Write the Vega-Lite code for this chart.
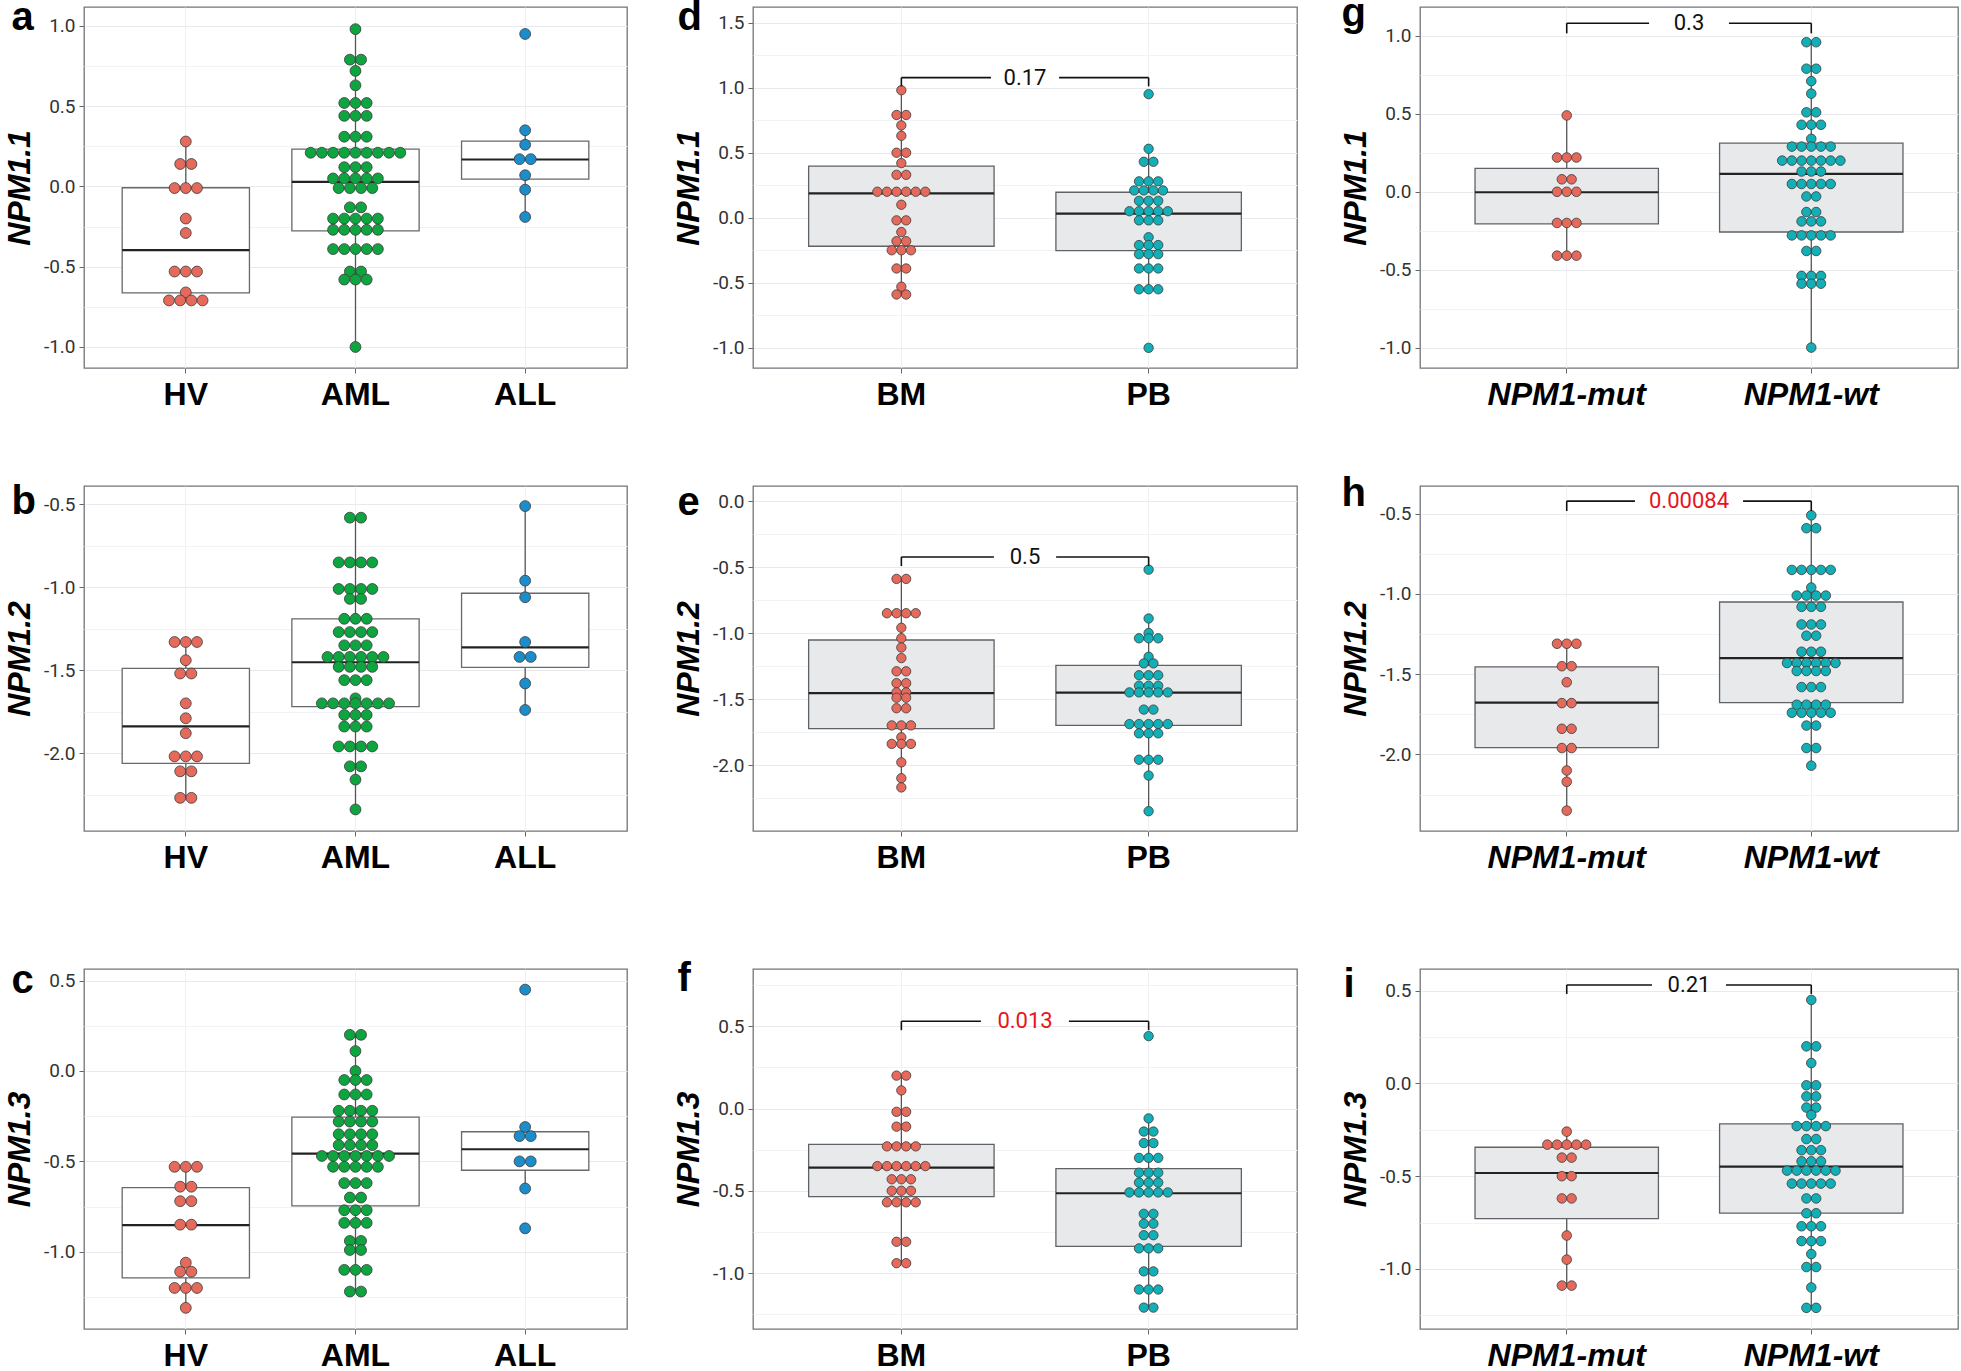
{
"$schema": "https://vega.github.io/schema/vega-lite/v6.json",
"padding": {"left": 2, "top": -7, "right": 0, "bottom": 0},
"datasets": {
"boxes": [
{"p":"a","g":"HV","lo":-0.71,"q1":-0.663,"med":-0.397,"q3":-0.008,"hi":0.28},
{"p":"a","g":"AML","lo":-1.0,"q1":-0.277,"med":0.029,"q3":0.233,"hi":0.98},
{"p":"a","g":"ALL","lo":-0.19,"q1":0.046,"med":0.168,"q3":0.283,"hi":0.35},
{"p":"b","g":"HV","lo":-2.27,"q1":-2.062,"med":-1.839,"q3":-1.489,"hi":-1.33},
{"p":"b","g":"AML","lo":-2.34,"q1":-1.72,"med":-1.452,"q3":-1.19,"hi":-0.58},
{"p":"b","g":"ALL","lo":-1.74,"q1":-1.483,"med":-1.362,"q3":-1.036,"hi":-0.51},
{"p":"c","g":"HV","lo":-1.31,"q1":-1.144,"med":-0.853,"q3":-0.645,"hi":-0.53},
{"p":"c","g":"AML","lo":-1.22,"q1":-0.746,"med":-0.457,"q3":-0.255,"hi":0.2},
{"p":"c","g":"ALL","lo":-0.65,"q1":-0.549,"med":-0.433,"q3":-0.336,"hi":-0.31},
{"p":"d","g":"BM","lo":-0.59,"q1":-0.219,"med":0.188,"q3":0.397,"hi":0.98},
{"p":"d","g":"PB","lo":-0.55,"q1":-0.253,"med":0.031,"q3":0.196,"hi":0.53},
{"p":"e","g":"BM","lo":-2.17,"q1":-1.725,"med":-1.455,"q3":-1.053,"hi":-0.59},
{"p":"e","g":"PB","lo":-2.35,"q1":-1.699,"med":-1.452,"q3":-1.245,"hi":-0.89},
{"p":"f","g":"BM","lo":-0.94,"q1":-0.535,"med":-0.359,"q3":-0.218,"hi":0.2},
{"p":"f","g":"PB","lo":-1.21,"q1":-0.838,"med":-0.515,"q3":-0.365,"hi":-0.06},
{"p":"g","g":"NPM1-mut","lo":-0.41,"q1":-0.206,"med":-0.003,"q3":0.15,"hi":0.49},
{"p":"g","g":"NPM1-wt","lo":-1.0,"q1":-0.258,"med":0.115,"q3":0.312,"hi":0.96},
{"p":"h","g":"NPM1-mut","lo":-2.35,"q1":-1.958,"med":-1.677,"q3":-1.454,"hi":-1.31},
{"p":"h","g":"NPM1-wt","lo":-2.07,"q1":-1.677,"med":-1.4,"q3":-1.05,"hi":-0.51},
{"p":"i","g":"NPM1-mut","lo":-1.09,"q1":-0.729,"med":-0.483,"q3":-0.344,"hi":-0.26},
{"p":"i","g":"NPM1-wt","lo":-1.21,"q1":-0.699,"med":-0.448,"q3":-0.218,"hi":0.45}
],
"brk": [
{"p":"d","g1":"BM","g2":"PB","y":1.077,"tip":1.01,"label":"0.17","pv":0.17},
{"p":"e","g1":"BM","g2":"PB","y":-0.424,"tip":-0.492,"label":"0.5","pv":0.5},
{"p":"f","g1":"BM","g2":"PB","y":0.53,"tip":0.476,"label":"0.013","pv":0.013},
{"p":"g","g1":"NPM1-mut","g2":"NPM1-wt","y":1.082,"tip":1.017,"label":"0.3","pv":0.3},
{"p":"h","g1":"NPM1-mut","g2":"NPM1-wt","y":-0.421,"tip":-0.483,"label":"0.00084","pv":0.00084},
{"p":"i","g1":"NPM1-mut","g2":"NPM1-wt","y":0.531,"tip":0.482,"label":"0.21","pv":0.21}
],
"dots": [
{"p":"a","g":"HV","v":0.28},{"p":"a","g":"HV","v":0.14},{"p":"a","g":"HV","v":0.14},{"p":"a","g":"HV","v":-0.01},{"p":"a","g":"HV","v":-0.01},{"p":"a","g":"HV","v":-0.01},{"p":"a","g":"HV","v":-0.2},{"p":"a","g":"HV","v":-0.29},{"p":"a","g":"HV","v":-0.53},{"p":"a","g":"HV","v":-0.53},{"p":"a","g":"HV","v":-0.53},{"p":"a","g":"HV","v":-0.66},{"p":"a","g":"HV","v":-0.71},{"p":"a","g":"HV","v":-0.71},{"p":"a","g":"HV","v":-0.71},{"p":"a","g":"HV","v":-0.71},
{"p":"a","g":"AML","v":0.98},{"p":"a","g":"AML","v":0.79},{"p":"a","g":"AML","v":0.79},{"p":"a","g":"AML","v":0.72},{"p":"a","g":"AML","v":0.63},{"p":"a","g":"AML","v":0.52},{"p":"a","g":"AML","v":0.52},{"p":"a","g":"AML","v":0.52},{"p":"a","g":"AML","v":0.44},{"p":"a","g":"AML","v":0.44},{"p":"a","g":"AML","v":0.44},{"p":"a","g":"AML","v":0.31},{"p":"a","g":"AML","v":0.31},{"p":"a","g":"AML","v":0.31},
{"p":"a","g":"AML","v":0.21},{"p":"a","g":"AML","v":0.21},{"p":"a","g":"AML","v":0.21},{"p":"a","g":"AML","v":0.21},{"p":"a","g":"AML","v":0.21},{"p":"a","g":"AML","v":0.21},{"p":"a","g":"AML","v":0.21},{"p":"a","g":"AML","v":0.21},{"p":"a","g":"AML","v":0.21},
{"p":"a","g":"AML","v":0.12},{"p":"a","g":"AML","v":0.12},{"p":"a","g":"AML","v":0.12},{"p":"a","g":"AML","v":0.05},{"p":"a","g":"AML","v":0.05},{"p":"a","g":"AML","v":0.05},{"p":"a","g":"AML","v":0.05},{"p":"a","g":"AML","v":0.05},{"p":"a","g":"AML","v":-0.01},{"p":"a","g":"AML","v":-0.01},{"p":"a","g":"AML","v":-0.01},{"p":"a","g":"AML","v":-0.01},{"p":"a","g":"AML","v":-0.13},{"p":"a","g":"AML","v":-0.13},
{"p":"a","g":"AML","v":-0.2},{"p":"a","g":"AML","v":-0.2},{"p":"a","g":"AML","v":-0.2},{"p":"a","g":"AML","v":-0.2},{"p":"a","g":"AML","v":-0.2},{"p":"a","g":"AML","v":-0.27},{"p":"a","g":"AML","v":-0.27},{"p":"a","g":"AML","v":-0.27},{"p":"a","g":"AML","v":-0.27},{"p":"a","g":"AML","v":-0.27},{"p":"a","g":"AML","v":-0.39},{"p":"a","g":"AML","v":-0.39},{"p":"a","g":"AML","v":-0.39},{"p":"a","g":"AML","v":-0.39},{"p":"a","g":"AML","v":-0.39},
{"p":"a","g":"AML","v":-0.53},{"p":"a","g":"AML","v":-0.53},{"p":"a","g":"AML","v":-0.58},{"p":"a","g":"AML","v":-0.58},{"p":"a","g":"AML","v":-0.58},{"p":"a","g":"AML","v":-1.0},
{"p":"a","g":"ALL","v":0.95},{"p":"a","g":"ALL","v":0.35},{"p":"a","g":"ALL","v":0.26},{"p":"a","g":"ALL","v":0.17},{"p":"a","g":"ALL","v":0.17},{"p":"a","g":"ALL","v":0.07},{"p":"a","g":"ALL","v":-0.02},{"p":"a","g":"ALL","v":-0.19},

{"p":"b","g":"HV","v":-1.33},{"p":"b","g":"HV","v":-1.33},{"p":"b","g":"HV","v":-1.33},{"p":"b","g":"HV","v":-1.44},{"p":"b","g":"HV","v":-1.52},{"p":"b","g":"HV","v":-1.52},{"p":"b","g":"HV","v":-1.7},{"p":"b","g":"HV","v":-1.79},{"p":"b","g":"HV","v":-1.88},{"p":"b","g":"HV","v":-2.02},{"p":"b","g":"HV","v":-2.02},{"p":"b","g":"HV","v":-2.02},{"p":"b","g":"HV","v":-2.11},{"p":"b","g":"HV","v":-2.11},{"p":"b","g":"HV","v":-2.27},{"p":"b","g":"HV","v":-2.27},
{"p":"b","g":"AML","v":-0.58},{"p":"b","g":"AML","v":-0.58},{"p":"b","g":"AML","v":-0.85},{"p":"b","g":"AML","v":-0.85},{"p":"b","g":"AML","v":-0.85},{"p":"b","g":"AML","v":-0.85},{"p":"b","g":"AML","v":-1.01},{"p":"b","g":"AML","v":-1.01},{"p":"b","g":"AML","v":-1.01},{"p":"b","g":"AML","v":-1.01},{"p":"b","g":"AML","v":-1.07},{"p":"b","g":"AML","v":-1.07},
{"p":"b","g":"AML","v":-1.19},{"p":"b","g":"AML","v":-1.19},{"p":"b","g":"AML","v":-1.19},{"p":"b","g":"AML","v":-1.27},{"p":"b","g":"AML","v":-1.27},{"p":"b","g":"AML","v":-1.27},{"p":"b","g":"AML","v":-1.27},{"p":"b","g":"AML","v":-1.35},{"p":"b","g":"AML","v":-1.35},{"p":"b","g":"AML","v":-1.35},
{"p":"b","g":"AML","v":-1.42},{"p":"b","g":"AML","v":-1.42},{"p":"b","g":"AML","v":-1.42},{"p":"b","g":"AML","v":-1.42},{"p":"b","g":"AML","v":-1.42},{"p":"b","g":"AML","v":-1.42},{"p":"b","g":"AML","v":-1.48},{"p":"b","g":"AML","v":-1.48},{"p":"b","g":"AML","v":-1.48},{"p":"b","g":"AML","v":-1.48},{"p":"b","g":"AML","v":-1.56},{"p":"b","g":"AML","v":-1.56},{"p":"b","g":"AML","v":-1.56},{"p":"b","g":"AML","v":-1.67},
{"p":"b","g":"AML","v":-1.7},{"p":"b","g":"AML","v":-1.7},{"p":"b","g":"AML","v":-1.7},{"p":"b","g":"AML","v":-1.7},{"p":"b","g":"AML","v":-1.7},{"p":"b","g":"AML","v":-1.7},{"p":"b","g":"AML","v":-1.7},{"p":"b","g":"AML","v":-1.77},{"p":"b","g":"AML","v":-1.77},{"p":"b","g":"AML","v":-1.77},{"p":"b","g":"AML","v":-1.84},{"p":"b","g":"AML","v":-1.84},{"p":"b","g":"AML","v":-1.84},
{"p":"b","g":"AML","v":-1.96},{"p":"b","g":"AML","v":-1.96},{"p":"b","g":"AML","v":-1.96},{"p":"b","g":"AML","v":-1.96},{"p":"b","g":"AML","v":-2.08},{"p":"b","g":"AML","v":-2.08},{"p":"b","g":"AML","v":-2.16},{"p":"b","g":"AML","v":-2.34},
{"p":"b","g":"ALL","v":-0.51},{"p":"b","g":"ALL","v":-0.96},{"p":"b","g":"ALL","v":-1.06},{"p":"b","g":"ALL","v":-1.33},{"p":"b","g":"ALL","v":-1.42},{"p":"b","g":"ALL","v":-1.42},{"p":"b","g":"ALL","v":-1.58},{"p":"b","g":"ALL","v":-1.74},

{"p":"c","g":"HV","v":-0.53},{"p":"c","g":"HV","v":-0.53},{"p":"c","g":"HV","v":-0.53},{"p":"c","g":"HV","v":-0.64},{"p":"c","g":"HV","v":-0.64},{"p":"c","g":"HV","v":-0.72},{"p":"c","g":"HV","v":-0.72},{"p":"c","g":"HV","v":-0.85},{"p":"c","g":"HV","v":-0.85},{"p":"c","g":"HV","v":-1.06},{"p":"c","g":"HV","v":-1.11},{"p":"c","g":"HV","v":-1.11},{"p":"c","g":"HV","v":-1.2},{"p":"c","g":"HV","v":-1.2},{"p":"c","g":"HV","v":-1.2},{"p":"c","g":"HV","v":-1.31},
{"p":"c","g":"AML","v":0.2},{"p":"c","g":"AML","v":0.2},{"p":"c","g":"AML","v":0.11},{"p":"c","g":"AML","v":0.0},{"p":"c","g":"AML","v":-0.05},{"p":"c","g":"AML","v":-0.05},{"p":"c","g":"AML","v":-0.05},{"p":"c","g":"AML","v":-0.13},{"p":"c","g":"AML","v":-0.13},{"p":"c","g":"AML","v":-0.13},
{"p":"c","g":"AML","v":-0.22},{"p":"c","g":"AML","v":-0.22},{"p":"c","g":"AML","v":-0.22},{"p":"c","g":"AML","v":-0.22},{"p":"c","g":"AML","v":-0.28},{"p":"c","g":"AML","v":-0.28},{"p":"c","g":"AML","v":-0.28},{"p":"c","g":"AML","v":-0.28},{"p":"c","g":"AML","v":-0.35},{"p":"c","g":"AML","v":-0.35},{"p":"c","g":"AML","v":-0.35},{"p":"c","g":"AML","v":-0.35},{"p":"c","g":"AML","v":-0.41},{"p":"c","g":"AML","v":-0.41},{"p":"c","g":"AML","v":-0.41},{"p":"c","g":"AML","v":-0.41},
{"p":"c","g":"AML","v":-0.47},{"p":"c","g":"AML","v":-0.47},{"p":"c","g":"AML","v":-0.47},{"p":"c","g":"AML","v":-0.47},{"p":"c","g":"AML","v":-0.47},{"p":"c","g":"AML","v":-0.47},{"p":"c","g":"AML","v":-0.47},{"p":"c","g":"AML","v":-0.53},{"p":"c","g":"AML","v":-0.53},{"p":"c","g":"AML","v":-0.53},{"p":"c","g":"AML","v":-0.53},{"p":"c","g":"AML","v":-0.53},
{"p":"c","g":"AML","v":-0.62},{"p":"c","g":"AML","v":-0.62},{"p":"c","g":"AML","v":-0.62},{"p":"c","g":"AML","v":-0.7},{"p":"c","g":"AML","v":-0.7},{"p":"c","g":"AML","v":-0.77},{"p":"c","g":"AML","v":-0.77},{"p":"c","g":"AML","v":-0.77},{"p":"c","g":"AML","v":-0.84},{"p":"c","g":"AML","v":-0.84},{"p":"c","g":"AML","v":-0.84},
{"p":"c","g":"AML","v":-0.94},{"p":"c","g":"AML","v":-0.94},{"p":"c","g":"AML","v":-0.99},{"p":"c","g":"AML","v":-0.99},{"p":"c","g":"AML","v":-1.1},{"p":"c","g":"AML","v":-1.1},{"p":"c","g":"AML","v":-1.1},{"p":"c","g":"AML","v":-1.22},{"p":"c","g":"AML","v":-1.22},
{"p":"c","g":"ALL","v":0.45},{"p":"c","g":"ALL","v":-0.31},{"p":"c","g":"ALL","v":-0.36},{"p":"c","g":"ALL","v":-0.36},{"p":"c","g":"ALL","v":-0.5},{"p":"c","g":"ALL","v":-0.5},{"p":"c","g":"ALL","v":-0.65},{"p":"c","g":"ALL","v":-0.87},

{"p":"d","g":"BM","v":0.98},{"p":"d","g":"BM","v":0.79},{"p":"d","g":"BM","v":0.79},{"p":"d","g":"BM","v":0.71},{"p":"d","g":"BM","v":0.63},{"p":"d","g":"BM","v":0.5},{"p":"d","g":"BM","v":0.5},{"p":"d","g":"BM","v":0.42},{"p":"d","g":"BM","v":0.33},{"p":"d","g":"BM","v":0.33},
{"p":"d","g":"BM","v":0.2},{"p":"d","g":"BM","v":0.2},{"p":"d","g":"BM","v":0.2},{"p":"d","g":"BM","v":0.2},{"p":"d","g":"BM","v":0.2},{"p":"d","g":"BM","v":0.2},{"p":"d","g":"BM","v":0.1},{"p":"d","g":"BM","v":-0.02},{"p":"d","g":"BM","v":-0.02},{"p":"d","g":"BM","v":-0.11},
{"p":"d","g":"BM","v":-0.18},{"p":"d","g":"BM","v":-0.18},{"p":"d","g":"BM","v":-0.25},{"p":"d","g":"BM","v":-0.25},{"p":"d","g":"BM","v":-0.25},{"p":"d","g":"BM","v":-0.39},{"p":"d","g":"BM","v":-0.39},{"p":"d","g":"BM","v":-0.53},{"p":"d","g":"BM","v":-0.59},{"p":"d","g":"BM","v":-0.59},
{"p":"d","g":"PB","v":0.95},{"p":"d","g":"PB","v":0.53},{"p":"d","g":"PB","v":0.43},{"p":"d","g":"PB","v":0.43},{"p":"d","g":"PB","v":0.28},{"p":"d","g":"PB","v":0.28},{"p":"d","g":"PB","v":0.28},{"p":"d","g":"PB","v":0.21},{"p":"d","g":"PB","v":0.21},{"p":"d","g":"PB","v":0.21},{"p":"d","g":"PB","v":0.21},
{"p":"d","g":"PB","v":0.13},{"p":"d","g":"PB","v":0.13},{"p":"d","g":"PB","v":0.13},{"p":"d","g":"PB","v":0.05},{"p":"d","g":"PB","v":0.05},{"p":"d","g":"PB","v":0.05},{"p":"d","g":"PB","v":0.05},{"p":"d","g":"PB","v":0.05},{"p":"d","g":"PB","v":-0.02},{"p":"d","g":"PB","v":-0.02},{"p":"d","g":"PB","v":-0.02},
{"p":"d","g":"PB","v":-0.15},{"p":"d","g":"PB","v":-0.21},{"p":"d","g":"PB","v":-0.21},{"p":"d","g":"PB","v":-0.21},{"p":"d","g":"PB","v":-0.28},{"p":"d","g":"PB","v":-0.28},{"p":"d","g":"PB","v":-0.28},{"p":"d","g":"PB","v":-0.39},{"p":"d","g":"PB","v":-0.39},{"p":"d","g":"PB","v":-0.39},{"p":"d","g":"PB","v":-0.55},{"p":"d","g":"PB","v":-0.55},{"p":"d","g":"PB","v":-0.55},{"p":"d","g":"PB","v":-1.0},

{"p":"e","g":"BM","v":-0.59},{"p":"e","g":"BM","v":-0.59},{"p":"e","g":"BM","v":-0.85},{"p":"e","g":"BM","v":-0.85},{"p":"e","g":"BM","v":-0.85},{"p":"e","g":"BM","v":-0.85},{"p":"e","g":"BM","v":-0.96},{"p":"e","g":"BM","v":-1.04},{"p":"e","g":"BM","v":-1.11},{"p":"e","g":"BM","v":-1.19},
{"p":"e","g":"BM","v":-1.29},{"p":"e","g":"BM","v":-1.29},{"p":"e","g":"BM","v":-1.38},{"p":"e","g":"BM","v":-1.38},{"p":"e","g":"BM","v":-1.45},{"p":"e","g":"BM","v":-1.45},{"p":"e","g":"BM","v":-1.49},{"p":"e","g":"BM","v":-1.49},{"p":"e","g":"BM","v":-1.57},{"p":"e","g":"BM","v":-1.57},
{"p":"e","g":"BM","v":-1.7},{"p":"e","g":"BM","v":-1.7},{"p":"e","g":"BM","v":-1.7},{"p":"e","g":"BM","v":-1.79},{"p":"e","g":"BM","v":-1.84},{"p":"e","g":"BM","v":-1.84},{"p":"e","g":"BM","v":-1.84},{"p":"e","g":"BM","v":-1.98},{"p":"e","g":"BM","v":-2.1},{"p":"e","g":"BM","v":-2.17},
{"p":"e","g":"PB","v":-0.52},{"p":"e","g":"PB","v":-0.89},{"p":"e","g":"PB","v":-1.0},{"p":"e","g":"PB","v":-1.04},{"p":"e","g":"PB","v":-1.04},{"p":"e","g":"PB","v":-1.04},{"p":"e","g":"PB","v":-1.18},{"p":"e","g":"PB","v":-1.23},{"p":"e","g":"PB","v":-1.23},
{"p":"e","g":"PB","v":-1.32},{"p":"e","g":"PB","v":-1.32},{"p":"e","g":"PB","v":-1.32},{"p":"e","g":"PB","v":-1.4},{"p":"e","g":"PB","v":-1.4},{"p":"e","g":"PB","v":-1.4},{"p":"e","g":"PB","v":-1.45},{"p":"e","g":"PB","v":-1.45},{"p":"e","g":"PB","v":-1.45},{"p":"e","g":"PB","v":-1.45},{"p":"e","g":"PB","v":-1.45},
{"p":"e","g":"PB","v":-1.58},{"p":"e","g":"PB","v":-1.58},{"p":"e","g":"PB","v":-1.69},{"p":"e","g":"PB","v":-1.69},{"p":"e","g":"PB","v":-1.69},{"p":"e","g":"PB","v":-1.69},{"p":"e","g":"PB","v":-1.69},{"p":"e","g":"PB","v":-1.76},{"p":"e","g":"PB","v":-1.76},{"p":"e","g":"PB","v":-1.76},
{"p":"e","g":"PB","v":-1.96},{"p":"e","g":"PB","v":-1.96},{"p":"e","g":"PB","v":-1.96},{"p":"e","g":"PB","v":-2.08},{"p":"e","g":"PB","v":-2.35},

{"p":"f","g":"BM","v":0.2},{"p":"f","g":"BM","v":0.2},{"p":"f","g":"BM","v":0.11},{"p":"f","g":"BM","v":-0.02},{"p":"f","g":"BM","v":-0.02},{"p":"f","g":"BM","v":-0.11},{"p":"f","g":"BM","v":-0.11},{"p":"f","g":"BM","v":-0.23},{"p":"f","g":"BM","v":-0.23},{"p":"f","g":"BM","v":-0.23},{"p":"f","g":"BM","v":-0.23},
{"p":"f","g":"BM","v":-0.35},{"p":"f","g":"BM","v":-0.35},{"p":"f","g":"BM","v":-0.35},{"p":"f","g":"BM","v":-0.35},{"p":"f","g":"BM","v":-0.35},{"p":"f","g":"BM","v":-0.35},{"p":"f","g":"BM","v":-0.43},{"p":"f","g":"BM","v":-0.43},{"p":"f","g":"BM","v":-0.43},
{"p":"f","g":"BM","v":-0.5},{"p":"f","g":"BM","v":-0.5},{"p":"f","g":"BM","v":-0.5},{"p":"f","g":"BM","v":-0.57},{"p":"f","g":"BM","v":-0.57},{"p":"f","g":"BM","v":-0.57},{"p":"f","g":"BM","v":-0.57},{"p":"f","g":"BM","v":-0.81},{"p":"f","g":"BM","v":-0.81},{"p":"f","g":"BM","v":-0.94},{"p":"f","g":"BM","v":-0.94},
{"p":"f","g":"PB","v":0.44},{"p":"f","g":"PB","v":-0.06},{"p":"f","g":"PB","v":-0.14},{"p":"f","g":"PB","v":-0.14},{"p":"f","g":"PB","v":-0.21},{"p":"f","g":"PB","v":-0.21},{"p":"f","g":"PB","v":-0.3},{"p":"f","g":"PB","v":-0.3},{"p":"f","g":"PB","v":-0.3},
{"p":"f","g":"PB","v":-0.39},{"p":"f","g":"PB","v":-0.39},{"p":"f","g":"PB","v":-0.39},{"p":"f","g":"PB","v":-0.45},{"p":"f","g":"PB","v":-0.45},{"p":"f","g":"PB","v":-0.45},{"p":"f","g":"PB","v":-0.51},{"p":"f","g":"PB","v":-0.51},{"p":"f","g":"PB","v":-0.51},{"p":"f","g":"PB","v":-0.51},{"p":"f","g":"PB","v":-0.51},
{"p":"f","g":"PB","v":-0.64},{"p":"f","g":"PB","v":-0.64},{"p":"f","g":"PB","v":-0.7},{"p":"f","g":"PB","v":-0.7},{"p":"f","g":"PB","v":-0.77},{"p":"f","g":"PB","v":-0.77},{"p":"f","g":"PB","v":-0.85},{"p":"f","g":"PB","v":-0.85},{"p":"f","g":"PB","v":-0.85},
{"p":"f","g":"PB","v":-0.99},{"p":"f","g":"PB","v":-0.99},{"p":"f","g":"PB","v":-1.1},{"p":"f","g":"PB","v":-1.1},{"p":"f","g":"PB","v":-1.1},{"p":"f","g":"PB","v":-1.21},{"p":"f","g":"PB","v":-1.21},

{"p":"g","g":"NPM1-mut","v":0.49},{"p":"g","g":"NPM1-mut","v":0.22},{"p":"g","g":"NPM1-mut","v":0.22},{"p":"g","g":"NPM1-mut","v":0.22},{"p":"g","g":"NPM1-mut","v":0.08},{"p":"g","g":"NPM1-mut","v":0.08},{"p":"g","g":"NPM1-mut","v":0.0},{"p":"g","g":"NPM1-mut","v":0.0},{"p":"g","g":"NPM1-mut","v":0.0},
{"p":"g","g":"NPM1-mut","v":-0.2},{"p":"g","g":"NPM1-mut","v":-0.2},{"p":"g","g":"NPM1-mut","v":-0.2},{"p":"g","g":"NPM1-mut","v":-0.41},{"p":"g","g":"NPM1-mut","v":-0.41},{"p":"g","g":"NPM1-mut","v":-0.41},
{"p":"g","g":"NPM1-wt","v":0.96},{"p":"g","g":"NPM1-wt","v":0.96},{"p":"g","g":"NPM1-wt","v":0.79},{"p":"g","g":"NPM1-wt","v":0.79},{"p":"g","g":"NPM1-wt","v":0.71},{"p":"g","g":"NPM1-wt","v":0.63},{"p":"g","g":"NPM1-wt","v":0.51},{"p":"g","g":"NPM1-wt","v":0.51},
{"p":"g","g":"NPM1-wt","v":0.43},{"p":"g","g":"NPM1-wt","v":0.43},{"p":"g","g":"NPM1-wt","v":0.43},{"p":"g","g":"NPM1-wt","v":0.34},{"p":"g","g":"NPM1-wt","v":0.29},{"p":"g","g":"NPM1-wt","v":0.29},{"p":"g","g":"NPM1-wt","v":0.29},{"p":"g","g":"NPM1-wt","v":0.29},{"p":"g","g":"NPM1-wt","v":0.29},
{"p":"g","g":"NPM1-wt","v":0.2},{"p":"g","g":"NPM1-wt","v":0.2},{"p":"g","g":"NPM1-wt","v":0.2},{"p":"g","g":"NPM1-wt","v":0.2},{"p":"g","g":"NPM1-wt","v":0.2},{"p":"g","g":"NPM1-wt","v":0.2},{"p":"g","g":"NPM1-wt","v":0.2},
{"p":"g","g":"NPM1-wt","v":0.13},{"p":"g","g":"NPM1-wt","v":0.13},{"p":"g","g":"NPM1-wt","v":0.13},{"p":"g","g":"NPM1-wt","v":0.05},{"p":"g","g":"NPM1-wt","v":0.05},{"p":"g","g":"NPM1-wt","v":0.05},{"p":"g","g":"NPM1-wt","v":0.05},{"p":"g","g":"NPM1-wt","v":0.05},
{"p":"g","g":"NPM1-wt","v":-0.03},{"p":"g","g":"NPM1-wt","v":-0.03},{"p":"g","g":"NPM1-wt","v":-0.13},{"p":"g","g":"NPM1-wt","v":-0.13},{"p":"g","g":"NPM1-wt","v":-0.19},{"p":"g","g":"NPM1-wt","v":-0.19},{"p":"g","g":"NPM1-wt","v":-0.19},
{"p":"g","g":"NPM1-wt","v":-0.28},{"p":"g","g":"NPM1-wt","v":-0.28},{"p":"g","g":"NPM1-wt","v":-0.28},{"p":"g","g":"NPM1-wt","v":-0.28},{"p":"g","g":"NPM1-wt","v":-0.28},{"p":"g","g":"NPM1-wt","v":-0.38},{"p":"g","g":"NPM1-wt","v":-0.38},
{"p":"g","g":"NPM1-wt","v":-0.54},{"p":"g","g":"NPM1-wt","v":-0.54},{"p":"g","g":"NPM1-wt","v":-0.54},{"p":"g","g":"NPM1-wt","v":-0.59},{"p":"g","g":"NPM1-wt","v":-0.59},{"p":"g","g":"NPM1-wt","v":-0.59},{"p":"g","g":"NPM1-wt","v":-1.0},

{"p":"h","g":"NPM1-mut","v":-1.31},{"p":"h","g":"NPM1-mut","v":-1.31},{"p":"h","g":"NPM1-mut","v":-1.31},{"p":"h","g":"NPM1-mut","v":-1.45},{"p":"h","g":"NPM1-mut","v":-1.45},{"p":"h","g":"NPM1-mut","v":-1.55},{"p":"h","g":"NPM1-mut","v":-1.68},{"p":"h","g":"NPM1-mut","v":-1.68},
{"p":"h","g":"NPM1-mut","v":-1.84},{"p":"h","g":"NPM1-mut","v":-1.84},{"p":"h","g":"NPM1-mut","v":-1.96},{"p":"h","g":"NPM1-mut","v":-1.96},{"p":"h","g":"NPM1-mut","v":-2.1},{"p":"h","g":"NPM1-mut","v":-2.17},{"p":"h","g":"NPM1-mut","v":-2.35},
{"p":"h","g":"NPM1-wt","v":-0.51},{"p":"h","g":"NPM1-wt","v":-0.59},{"p":"h","g":"NPM1-wt","v":-0.59},{"p":"h","g":"NPM1-wt","v":-0.85},{"p":"h","g":"NPM1-wt","v":-0.85},{"p":"h","g":"NPM1-wt","v":-0.85},{"p":"h","g":"NPM1-wt","v":-0.85},{"p":"h","g":"NPM1-wt","v":-0.85},
{"p":"h","g":"NPM1-wt","v":-0.96},{"p":"h","g":"NPM1-wt","v":-1.01},{"p":"h","g":"NPM1-wt","v":-1.01},{"p":"h","g":"NPM1-wt","v":-1.01},{"p":"h","g":"NPM1-wt","v":-1.01},{"p":"h","g":"NPM1-wt","v":-1.08},{"p":"h","g":"NPM1-wt","v":-1.08},{"p":"h","g":"NPM1-wt","v":-1.08},
{"p":"h","g":"NPM1-wt","v":-1.19},{"p":"h","g":"NPM1-wt","v":-1.19},{"p":"h","g":"NPM1-wt","v":-1.19},{"p":"h","g":"NPM1-wt","v":-1.26},{"p":"h","g":"NPM1-wt","v":-1.26},{"p":"h","g":"NPM1-wt","v":-1.36},{"p":"h","g":"NPM1-wt","v":-1.36},{"p":"h","g":"NPM1-wt","v":-1.36},
{"p":"h","g":"NPM1-wt","v":-1.43},{"p":"h","g":"NPM1-wt","v":-1.43},{"p":"h","g":"NPM1-wt","v":-1.43},{"p":"h","g":"NPM1-wt","v":-1.43},{"p":"h","g":"NPM1-wt","v":-1.43},{"p":"h","g":"NPM1-wt","v":-1.43},{"p":"h","g":"NPM1-wt","v":-1.48},{"p":"h","g":"NPM1-wt","v":-1.48},{"p":"h","g":"NPM1-wt","v":-1.48},{"p":"h","g":"NPM1-wt","v":-1.48},
{"p":"h","g":"NPM1-wt","v":-1.58},{"p":"h","g":"NPM1-wt","v":-1.58},{"p":"h","g":"NPM1-wt","v":-1.58},{"p":"h","g":"NPM1-wt","v":-1.69},{"p":"h","g":"NPM1-wt","v":-1.69},{"p":"h","g":"NPM1-wt","v":-1.69},{"p":"h","g":"NPM1-wt","v":-1.69},
{"p":"h","g":"NPM1-wt","v":-1.74},{"p":"h","g":"NPM1-wt","v":-1.74},{"p":"h","g":"NPM1-wt","v":-1.74},{"p":"h","g":"NPM1-wt","v":-1.74},{"p":"h","g":"NPM1-wt","v":-1.74},{"p":"h","g":"NPM1-wt","v":-1.82},{"p":"h","g":"NPM1-wt","v":-1.82},{"p":"h","g":"NPM1-wt","v":-1.96},{"p":"h","g":"NPM1-wt","v":-1.96},{"p":"h","g":"NPM1-wt","v":-2.07},

{"p":"i","g":"NPM1-mut","v":-0.26},{"p":"i","g":"NPM1-mut","v":-0.33},{"p":"i","g":"NPM1-mut","v":-0.33},{"p":"i","g":"NPM1-mut","v":-0.33},{"p":"i","g":"NPM1-mut","v":-0.33},{"p":"i","g":"NPM1-mut","v":-0.33},{"p":"i","g":"NPM1-mut","v":-0.4},{"p":"i","g":"NPM1-mut","v":-0.4},
{"p":"i","g":"NPM1-mut","v":-0.5},{"p":"i","g":"NPM1-mut","v":-0.5},{"p":"i","g":"NPM1-mut","v":-0.62},{"p":"i","g":"NPM1-mut","v":-0.62},{"p":"i","g":"NPM1-mut","v":-0.82},{"p":"i","g":"NPM1-mut","v":-0.95},{"p":"i","g":"NPM1-mut","v":-1.09},{"p":"i","g":"NPM1-mut","v":-1.09},
{"p":"i","g":"NPM1-wt","v":0.45},{"p":"i","g":"NPM1-wt","v":0.2},{"p":"i","g":"NPM1-wt","v":0.2},{"p":"i","g":"NPM1-wt","v":0.11},{"p":"i","g":"NPM1-wt","v":-0.01},{"p":"i","g":"NPM1-wt","v":-0.01},{"p":"i","g":"NPM1-wt","v":-0.07},{"p":"i","g":"NPM1-wt","v":-0.07},
{"p":"i","g":"NPM1-wt","v":-0.13},{"p":"i","g":"NPM1-wt","v":-0.13},{"p":"i","g":"NPM1-wt","v":-0.17},{"p":"i","g":"NPM1-wt","v":-0.23},{"p":"i","g":"NPM1-wt","v":-0.23},{"p":"i","g":"NPM1-wt","v":-0.23},{"p":"i","g":"NPM1-wt","v":-0.23},
{"p":"i","g":"NPM1-wt","v":-0.3},{"p":"i","g":"NPM1-wt","v":-0.3},{"p":"i","g":"NPM1-wt","v":-0.36},{"p":"i","g":"NPM1-wt","v":-0.36},{"p":"i","g":"NPM1-wt","v":-0.36},{"p":"i","g":"NPM1-wt","v":-0.42},{"p":"i","g":"NPM1-wt","v":-0.42},{"p":"i","g":"NPM1-wt","v":-0.42},
{"p":"i","g":"NPM1-wt","v":-0.47},{"p":"i","g":"NPM1-wt","v":-0.47},{"p":"i","g":"NPM1-wt","v":-0.47},{"p":"i","g":"NPM1-wt","v":-0.47},{"p":"i","g":"NPM1-wt","v":-0.47},{"p":"i","g":"NPM1-wt","v":-0.47},
{"p":"i","g":"NPM1-wt","v":-0.54},{"p":"i","g":"NPM1-wt","v":-0.54},{"p":"i","g":"NPM1-wt","v":-0.54},{"p":"i","g":"NPM1-wt","v":-0.54},{"p":"i","g":"NPM1-wt","v":-0.54},{"p":"i","g":"NPM1-wt","v":-0.62},{"p":"i","g":"NPM1-wt","v":-0.62},{"p":"i","g":"NPM1-wt","v":-0.7},{"p":"i","g":"NPM1-wt","v":-0.7},
{"p":"i","g":"NPM1-wt","v":-0.77},{"p":"i","g":"NPM1-wt","v":-0.77},{"p":"i","g":"NPM1-wt","v":-0.77},{"p":"i","g":"NPM1-wt","v":-0.85},{"p":"i","g":"NPM1-wt","v":-0.85},{"p":"i","g":"NPM1-wt","v":-0.85},{"p":"i","g":"NPM1-wt","v":-0.92},
{"p":"i","g":"NPM1-wt","v":-0.99},{"p":"i","g":"NPM1-wt","v":-0.99},{"p":"i","g":"NPM1-wt","v":-1.1},{"p":"i","g":"NPM1-wt","v":-1.21},{"p":"i","g":"NPM1-wt","v":-1.21}
]
},
"vconcat": [
{"vconcat": [
{"hconcat": [
{"hconcat": [
{
"width": 543, "height": 361,
"title": {"text": "a", "anchor": "start", "frame": "bounds", "orient": "top", "offset": -63, "baseline": "alphabetic", "dx": 8, "fontSize": 40, "fontWeight": "bold", "font": "Liberation Sans", "color": "#000"},
"encoding": {"x": {"field": "g", "type": "nominal", "sort": ["HV","AML","ALL"], "title": null, "scale": {"type": "band", "paddingInner": 0.25, "paddingOuter": 0.225}}},
"layer": [
{"data": {"name": "boxes"}, "transform": [{"filter": "datum.p=='a'"}], "mark": {"type": "rule", "color": "#555", "strokeWidth": 1.3},
 "encoding": {"y": {"field": "lo", "type": "quantitative", "scale": {"domain": [-1.131, 1.118], "nice": false, "zero": false},
   "axis": {"title": "NPM1.1", "values": [-1,-0.75,-0.5,-0.25,0,0.25,0.5,0.75,1], "labelExpr": "abs(datum.value*2-round(datum.value*2))<0.001 ? (datum.value<-0.001?'-':'')+format(abs(datum.value),'.1f') : ''", "tickOpacity": {"condition": {"test": "abs(datum.value*2-round(datum.value*2))>0.001", "value": 0}, "value": 1}, "gridColor": {"condition": {"test": "abs(datum.value*2-round(datum.value*2))>0.001", "value": "#F2F3F5"}, "value": "#E8EAEE"}}},
  "y2": {"field": "hi"}}},
{"data": {"name": "boxes"}, "transform": [{"filter": "datum.p=='a'"}], "mark": {"type": "rect", "fill": "#FFFFFF", "stroke": "#66696D", "strokeWidth": 1.3},
 "encoding": {"x": {"field": "g", "type": "nominal", "sort": ["HV","AML","ALL"], "bandPosition": 0, "title": null}, "x2": {"field": "g", "bandPosition": 1},
  "y": {"field": "q1", "type": "quantitative", "scale": {"domain": [-1.131, 1.118], "nice": false, "zero": false}}, "y2": {"field": "q3"}}},
{"data": {"name": "boxes"}, "transform": [{"filter": "datum.p=='a'"}], "mark": {"type": "rule", "color": "#222", "strokeWidth": 2.2},
 "encoding": {"x": {"field": "g", "type": "nominal", "sort": ["HV","AML","ALL"], "bandPosition": 0, "title": null}, "x2": {"field": "g", "bandPosition": 1},
  "y": {"field": "med", "type": "quantitative", "scale": {"domain": [-1.131, 1.118], "nice": false, "zero": false}}}},
{"data": {"name": "dots"}, "transform": [{"filter": "datum.p=='a'"}, {"window": [{"op": "row_number", "as": "rk"}, {"op": "count", "as": "n"}], "groupby": ["g", "v"], "frame": [null, null]}, {"calculate": "datum.rk - (datum.n + 1) / 2", "as": "off"}],
 "mark": {"type": "point", "filled": true, "size": 118, "stroke": "#3A3A3A", "strokeWidth": 0.8, "opacity": 1},
 "encoding": {"xOffset": {"field": "off", "type": "quantitative", "scale": {"domain": [-10, 10], "range": [-48.4, 175.6]}},
  "y": {"field": "v", "type": "quantitative", "scale": {"domain": [-1.131, 1.118], "nice": false, "zero": false}},
  "color": {"field": "g", "type": "nominal", "scale": {"domain": ["HV","AML","ALL","BM","PB","NPM1-mut","NPM1-wt"], "range": ["#E66A5C","#0EA43F","#1C8DCB","#E66A5C","#13AFB6","#E66A5C","#13AFB6"]}, "legend": null}}}
]
},
{
"width": 544, "height": 361,
"title": {"text": "d", "anchor": "start", "frame": "bounds", "orient": "top", "offset": -63, "baseline": "alphabetic", "dx": 5, "fontSize": 40, "fontWeight": "bold", "font": "Liberation Sans", "color": "#000"},
"encoding": {"x": {"field": "g", "type": "nominal", "sort": ["BM","PB"], "title": null, "scale": {"type": "band", "paddingInner": 0.25, "paddingOuter": 0.225}}},
"layer": [
{"data": {"name": "boxes"}, "transform": [{"filter": "datum.p=='d'"}], "mark": {"type": "rule", "color": "#555", "strokeWidth": 1.3},
 "encoding": {"y": {"field": "lo", "type": "quantitative", "scale": {"domain": [-1.155, 1.62], "nice": false, "zero": false},
   "axis": {"title": "NPM1.1", "values": [-1,-0.75,-0.5,-0.25,0,0.25,0.5,0.75,1,1.25,1.5], "labelExpr": "abs(datum.value*2-round(datum.value*2))<0.001 ? (datum.value<-0.001?'-':'')+format(abs(datum.value),'.1f') : ''", "tickOpacity": {"condition": {"test": "abs(datum.value*2-round(datum.value*2))>0.001", "value": 0}, "value": 1}, "gridColor": {"condition": {"test": "abs(datum.value*2-round(datum.value*2))>0.001", "value": "#F2F3F5"}, "value": "#E8EAEE"}}},
  "y2": {"field": "hi"}}},
{"data": {"name": "boxes"}, "transform": [{"filter": "datum.p=='d'"}], "mark": {"type": "rect", "fill": "#E8E9EB", "stroke": "#5F6266", "strokeWidth": 1.3},
 "encoding": {"x": {"field": "g", "type": "nominal", "sort": ["BM","PB"], "bandPosition": 0, "title": null}, "x2": {"field": "g", "bandPosition": 1},
  "y": {"field": "q1", "type": "quantitative", "scale": {"domain": [-1.155, 1.62], "nice": false, "zero": false}}, "y2": {"field": "q3"}}},
{"data": {"name": "boxes"}, "transform": [{"filter": "datum.p=='d'"}], "mark": {"type": "rule", "color": "#222", "strokeWidth": 2.2},
 "encoding": {"x": {"field": "g", "type": "nominal", "sort": ["BM","PB"], "bandPosition": 0, "title": null}, "x2": {"field": "g", "bandPosition": 1},
  "y": {"field": "med", "type": "quantitative", "scale": {"domain": [-1.155, 1.62], "nice": false, "zero": false}}}},
{"data": {"name": "dots"}, "transform": [{"filter": "datum.p=='d'"}, {"window": [{"op": "row_number", "as": "rk"}, {"op": "count", "as": "n"}], "groupby": ["g", "v"], "frame": [null, null]}, {"calculate": "datum.rk - (datum.n + 1) / 2", "as": "off"}],
 "mark": {"type": "point", "filled": true, "size": 88, "stroke": "#3A3A3A", "strokeWidth": 0.8, "opacity": 1},
 "encoding": {"xOffset": {"field": "off", "type": "quantitative", "scale": {"domain": [-10, 10], "range": [-3.3, 188.7]}},
  "y": {"field": "v", "type": "quantitative", "scale": {"domain": [-1.155, 1.62], "nice": false, "zero": false}},
  "color": {"field": "g", "type": "nominal", "scale": {"domain": ["HV","AML","ALL","BM","PB","NPM1-mut","NPM1-wt"], "range": ["#E66A5C","#0EA43F","#1C8DCB","#E66A5C","#13AFB6","#E66A5C","#13AFB6"]}, "legend": null}}},
{"data": {"name": "brk"}, "transform": [{"filter": "datum.p=='d'"}], "mark": {"type": "rule", "color": "#111", "strokeWidth": 1.6},
 "encoding": {"x": {"field": "g1", "type": "nominal", "sort": ["BM","PB"], "bandPosition": 0.5, "title": null}, "y": {"field": "y", "type": "quantitative", "scale": {"domain": [-1.155, 1.62], "nice": false, "zero": false}}, "y2": {"field": "tip"}}},
{"data": {"name": "brk"}, "transform": [{"filter": "datum.p=='d'"}], "mark": {"type": "rule", "color": "#111", "strokeWidth": 1.6},
 "encoding": {"x": {"field": "g2", "type": "nominal", "sort": ["BM","PB"], "bandPosition": 0.5, "title": null}, "y": {"field": "y", "type": "quantitative", "scale": {"domain": [-1.155, 1.62], "nice": false, "zero": false}}, "y2": {"field": "tip"}}},
{"data": {"name": "brk"}, "transform": [{"filter": "datum.p=='d'"}], "mark": {"type": "rule", "color": "#111", "strokeWidth": 1.6},
 "encoding": {"x": {"field": "g1", "type": "nominal", "sort": ["BM","PB"], "bandPosition": 0.5, "title": null}, "x2": {"field": "g1", "bandPosition": 0.983}, "y": {"field": "y", "type": "quantitative", "scale": {"domain": [-1.155, 1.62], "nice": false, "zero": false}}}},
{"data": {"name": "brk"}, "transform": [{"filter": "datum.p=='d'"}], "mark": {"type": "rule", "color": "#111", "strokeWidth": 1.6},
 "encoding": {"x": {"field": "g2", "type": "nominal", "sort": ["BM","PB"], "bandPosition": 0.017, "title": null}, "x2": {"field": "g2", "bandPosition": 0.5}, "y": {"field": "y", "type": "quantitative", "scale": {"domain": [-1.155, 1.62], "nice": false, "zero": false}}}},
{"data": {"name": "brk"}, "transform": [{"filter": "datum.p=='d'"}], "mark": {"type": "text", "font": "Roboto", "fontSize": 22, "align": "center", "baseline": "middle"},
 "encoding": {"x": {"field": "g1", "type": "nominal", "sort": ["BM","PB"], "bandPosition": 1.1667, "title": null}, "y": {"field": "y", "type": "quantitative", "scale": {"domain": [-1.155, 1.62], "nice": false, "zero": false}}, "text": {"field": "label"}, "color": {"condition": {"test": "datum.pv < 0.05", "value": "#E8141B"}, "value": "#111"}}}
]
}
], "spacing": 43, "resolve": {"scale": {"x": "independent", "y": "independent", "xOffset": "independent"}}},
{
"width": 538, "height": 361,
"title": {"text": "g", "anchor": "start", "frame": "bounds", "orient": "top", "offset": -59, "baseline": "alphabetic", "dx": 2, "fontSize": 40, "fontWeight": "bold", "font": "Liberation Sans", "color": "#000"},
"encoding": {"x": {"field": "g", "type": "nominal", "sort": ["NPM1-mut","NPM1-wt"], "title": null, "scale": {"type": "band", "paddingInner": 0.25, "paddingOuter": 0.225}, "axis": {"labelFontStyle": "italic"}}},
"layer": [
{"data": {"name": "boxes"}, "transform": [{"filter": "datum.p=='g'"}], "mark": {"type": "rule", "color": "#555", "strokeWidth": 1.3},
 "encoding": {"y": {"field": "lo", "type": "quantitative", "scale": {"domain": [-1.131, 1.186], "nice": false, "zero": false},
   "axis": {"title": "NPM1.1", "values": [-1,-0.75,-0.5,-0.25,0,0.25,0.5,0.75,1], "labelExpr": "abs(datum.value*2-round(datum.value*2))<0.001 ? (datum.value<-0.001?'-':'')+format(abs(datum.value),'.1f') : ''", "tickOpacity": {"condition": {"test": "abs(datum.value*2-round(datum.value*2))>0.001", "value": 0}, "value": 1}, "gridColor": {"condition": {"test": "abs(datum.value*2-round(datum.value*2))>0.001", "value": "#F2F3F5"}, "value": "#E8EAEE"}}},
  "y2": {"field": "hi"}}},
{"data": {"name": "boxes"}, "transform": [{"filter": "datum.p=='g'"}], "mark": {"type": "rect", "fill": "#E8E9EB", "stroke": "#5F6266", "strokeWidth": 1.3},
 "encoding": {"x": {"field": "g", "type": "nominal", "sort": ["NPM1-mut","NPM1-wt"], "bandPosition": 0, "title": null}, "x2": {"field": "g", "bandPosition": 1},
  "y": {"field": "q1", "type": "quantitative", "scale": {"domain": [-1.131, 1.186], "nice": false, "zero": false}}, "y2": {"field": "q3"}}},
{"data": {"name": "boxes"}, "transform": [{"filter": "datum.p=='g'"}], "mark": {"type": "rule", "color": "#222", "strokeWidth": 2.2},
 "encoding": {"x": {"field": "g", "type": "nominal", "sort": ["NPM1-mut","NPM1-wt"], "bandPosition": 0, "title": null}, "x2": {"field": "g", "bandPosition": 1},
  "y": {"field": "med", "type": "quantitative", "scale": {"domain": [-1.131, 1.186], "nice": false, "zero": false}}}},
{"data": {"name": "dots"}, "transform": [{"filter": "datum.p=='g'"}, {"window": [{"op": "row_number", "as": "rk"}, {"op": "count", "as": "n"}], "groupby": ["g", "v"], "frame": [null, null]}, {"calculate": "datum.rk - (datum.n + 1) / 2", "as": "off"}],
 "mark": {"type": "point", "filled": true, "size": 92, "stroke": "#3A3A3A", "strokeWidth": 0.8, "opacity": 1},
 "encoding": {"xOffset": {"field": "off", "type": "quantitative", "scale": {"domain": [-10, 10], "range": [-5.3, 188.7]}},
  "y": {"field": "v", "type": "quantitative", "scale": {"domain": [-1.131, 1.186], "nice": false, "zero": false}},
  "color": {"field": "g", "type": "nominal", "scale": {"domain": ["HV","AML","ALL","BM","PB","NPM1-mut","NPM1-wt"], "range": ["#E66A5C","#0EA43F","#1C8DCB","#E66A5C","#13AFB6","#E66A5C","#13AFB6"]}, "legend": null}}},
{"data": {"name": "brk"}, "transform": [{"filter": "datum.p=='g'"}], "mark": {"type": "rule", "color": "#111", "strokeWidth": 1.6},
 "encoding": {"x": {"field": "g1", "type": "nominal", "sort": ["NPM1-mut","NPM1-wt"], "bandPosition": 0.5, "title": null}, "y": {"field": "y", "type": "quantitative", "scale": {"domain": [-1.131, 1.186], "nice": false, "zero": false}}, "y2": {"field": "tip"}}},
{"data": {"name": "brk"}, "transform": [{"filter": "datum.p=='g'"}], "mark": {"type": "rule", "color": "#111", "strokeWidth": 1.6},
 "encoding": {"x": {"field": "g2", "type": "nominal", "sort": ["NPM1-mut","NPM1-wt"], "bandPosition": 0.5, "title": null}, "y": {"field": "y", "type": "quantitative", "scale": {"domain": [-1.131, 1.186], "nice": false, "zero": false}}, "y2": {"field": "tip"}}},
{"data": {"name": "brk"}, "transform": [{"filter": "datum.p=='g'"}], "mark": {"type": "rule", "color": "#111", "strokeWidth": 1.6},
 "encoding": {"x": {"field": "g1", "type": "nominal", "sort": ["NPM1-mut","NPM1-wt"], "bandPosition": 0.5, "title": null}, "x2": {"field": "g1", "bandPosition": 0.949}, "y": {"field": "y", "type": "quantitative", "scale": {"domain": [-1.131, 1.186], "nice": false, "zero": false}}}},
{"data": {"name": "brk"}, "transform": [{"filter": "datum.p=='g'"}], "mark": {"type": "rule", "color": "#111", "strokeWidth": 1.6},
 "encoding": {"x": {"field": "g2", "type": "nominal", "sort": ["NPM1-mut","NPM1-wt"], "bandPosition": 0.051, "title": null}, "x2": {"field": "g2", "bandPosition": 0.5}, "y": {"field": "y", "type": "quantitative", "scale": {"domain": [-1.131, 1.186], "nice": false, "zero": false}}}},
{"data": {"name": "brk"}, "transform": [{"filter": "datum.p=='g'"}], "mark": {"type": "text", "font": "Roboto", "fontSize": 22, "align": "center", "baseline": "middle"},
 "encoding": {"x": {"field": "g1", "type": "nominal", "sort": ["NPM1-mut","NPM1-wt"], "bandPosition": 1.1667, "title": null}, "y": {"field": "y", "type": "quantitative", "scale": {"domain": [-1.131, 1.186], "nice": false, "zero": false}}, "text": {"field": "label"}, "color": {"condition": {"test": "datum.pv < 0.05", "value": "#E8141B"}, "value": "#111"}}}
]
}
], "spacing": 40, "resolve": {"scale": {"x": "independent", "y": "independent", "xOffset": "independent"}}},
{"hconcat": [
{"hconcat": [
{
"width": 543, "height": 345,
"title": {"text": "b", "anchor": "start", "frame": "bounds", "orient": "top", "offset": -68, "baseline": "alphabetic", "dx": 8, "fontSize": 40, "fontWeight": "bold", "font": "Liberation Sans", "color": "#000"},
"encoding": {"x": {"field": "g", "type": "nominal", "sort": ["HV","AML","ALL"], "title": null, "scale": {"type": "band", "paddingInner": 0.25, "paddingOuter": 0.225}}},
"layer": [
{"data": {"name": "boxes"}, "transform": [{"filter": "datum.p=='b'"}], "mark": {"type": "rule", "color": "#555", "strokeWidth": 1.3},
 "encoding": {"y": {"field": "lo", "type": "quantitative", "scale": {"domain": [-2.47, -0.389], "nice": false, "zero": false},
   "axis": {"title": "NPM1.2", "values": [-2.25,-2,-1.75,-1.5,-1.25,-1,-0.75,-0.5], "labelExpr": "abs(datum.value*2-round(datum.value*2))<0.001 ? (datum.value<-0.001?'-':'')+format(abs(datum.value),'.1f') : ''", "tickOpacity": {"condition": {"test": "abs(datum.value*2-round(datum.value*2))>0.001", "value": 0}, "value": 1}, "gridColor": {"condition": {"test": "abs(datum.value*2-round(datum.value*2))>0.001", "value": "#F2F3F5"}, "value": "#E8EAEE"}}},
  "y2": {"field": "hi"}}},
{"data": {"name": "boxes"}, "transform": [{"filter": "datum.p=='b'"}], "mark": {"type": "rect", "fill": "#FFFFFF", "stroke": "#66696D", "strokeWidth": 1.3},
 "encoding": {"x": {"field": "g", "type": "nominal", "sort": ["HV","AML","ALL"], "bandPosition": 0, "title": null}, "x2": {"field": "g", "bandPosition": 1},
  "y": {"field": "q1", "type": "quantitative", "scale": {"domain": [-2.47, -0.389], "nice": false, "zero": false}}, "y2": {"field": "q3"}}},
{"data": {"name": "boxes"}, "transform": [{"filter": "datum.p=='b'"}], "mark": {"type": "rule", "color": "#222", "strokeWidth": 2.2},
 "encoding": {"x": {"field": "g", "type": "nominal", "sort": ["HV","AML","ALL"], "bandPosition": 0, "title": null}, "x2": {"field": "g", "bandPosition": 1},
  "y": {"field": "med", "type": "quantitative", "scale": {"domain": [-2.47, -0.389], "nice": false, "zero": false}}}},
{"data": {"name": "dots"}, "transform": [{"filter": "datum.p=='b'"}, {"window": [{"op": "row_number", "as": "rk"}, {"op": "count", "as": "n"}], "groupby": ["g", "v"], "frame": [null, null]}, {"calculate": "datum.rk - (datum.n + 1) / 2", "as": "off"}],
 "mark": {"type": "point", "filled": true, "size": 118, "stroke": "#3A3A3A", "strokeWidth": 0.8, "opacity": 1},
 "encoding": {"xOffset": {"field": "off", "type": "quantitative", "scale": {"domain": [-10, 10], "range": [-48.4, 175.6]}},
  "y": {"field": "v", "type": "quantitative", "scale": {"domain": [-2.47, -0.389], "nice": false, "zero": false}},
  "color": {"field": "g", "type": "nominal", "scale": {"domain": ["HV","AML","ALL","BM","PB","NPM1-mut","NPM1-wt"], "range": ["#E66A5C","#0EA43F","#1C8DCB","#E66A5C","#13AFB6","#E66A5C","#13AFB6"]}, "legend": null}}}
]
},
{
"width": 544, "height": 345,
"title": {"text": "e", "anchor": "start", "frame": "bounds", "orient": "top", "offset": -69, "baseline": "alphabetic", "dx": 5, "fontSize": 40, "fontWeight": "bold", "font": "Liberation Sans", "color": "#000"},
"encoding": {"x": {"field": "g", "type": "nominal", "sort": ["BM","PB"], "title": null, "scale": {"type": "band", "paddingInner": 0.25, "paddingOuter": 0.225}}},
"layer": [
{"data": {"name": "boxes"}, "transform": [{"filter": "datum.p=='e'"}], "mark": {"type": "rule", "color": "#555", "strokeWidth": 1.3},
 "encoding": {"y": {"field": "lo", "type": "quantitative", "scale": {"domain": [-2.5, 0.114], "nice": false, "zero": false},
   "axis": {"title": "NPM1.2", "values": [-2.25,-2,-1.75,-1.5,-1.25,-1,-0.75,-0.5,-0.25,0], "labelExpr": "abs(datum.value*2-round(datum.value*2))<0.001 ? (datum.value<-0.001?'-':'')+format(abs(datum.value),'.1f') : ''", "tickOpacity": {"condition": {"test": "abs(datum.value*2-round(datum.value*2))>0.001", "value": 0}, "value": 1}, "gridColor": {"condition": {"test": "abs(datum.value*2-round(datum.value*2))>0.001", "value": "#F2F3F5"}, "value": "#E8EAEE"}}},
  "y2": {"field": "hi"}}},
{"data": {"name": "boxes"}, "transform": [{"filter": "datum.p=='e'"}], "mark": {"type": "rect", "fill": "#E8E9EB", "stroke": "#5F6266", "strokeWidth": 1.3},
 "encoding": {"x": {"field": "g", "type": "nominal", "sort": ["BM","PB"], "bandPosition": 0, "title": null}, "x2": {"field": "g", "bandPosition": 1},
  "y": {"field": "q1", "type": "quantitative", "scale": {"domain": [-2.5, 0.114], "nice": false, "zero": false}}, "y2": {"field": "q3"}}},
{"data": {"name": "boxes"}, "transform": [{"filter": "datum.p=='e'"}], "mark": {"type": "rule", "color": "#222", "strokeWidth": 2.2},
 "encoding": {"x": {"field": "g", "type": "nominal", "sort": ["BM","PB"], "bandPosition": 0, "title": null}, "x2": {"field": "g", "bandPosition": 1},
  "y": {"field": "med", "type": "quantitative", "scale": {"domain": [-2.5, 0.114], "nice": false, "zero": false}}}},
{"data": {"name": "dots"}, "transform": [{"filter": "datum.p=='e'"}, {"window": [{"op": "row_number", "as": "rk"}, {"op": "count", "as": "n"}], "groupby": ["g", "v"], "frame": [null, null]}, {"calculate": "datum.rk - (datum.n + 1) / 2", "as": "off"}],
 "mark": {"type": "point", "filled": true, "size": 88, "stroke": "#3A3A3A", "strokeWidth": 0.8, "opacity": 1},
 "encoding": {"xOffset": {"field": "off", "type": "quantitative", "scale": {"domain": [-10, 10], "range": [-3.3, 188.7]}},
  "y": {"field": "v", "type": "quantitative", "scale": {"domain": [-2.5, 0.114], "nice": false, "zero": false}},
  "color": {"field": "g", "type": "nominal", "scale": {"domain": ["HV","AML","ALL","BM","PB","NPM1-mut","NPM1-wt"], "range": ["#E66A5C","#0EA43F","#1C8DCB","#E66A5C","#13AFB6","#E66A5C","#13AFB6"]}, "legend": null}}},
{"data": {"name": "brk"}, "transform": [{"filter": "datum.p=='e'"}], "mark": {"type": "rule", "color": "#111", "strokeWidth": 1.6},
 "encoding": {"x": {"field": "g1", "type": "nominal", "sort": ["BM","PB"], "bandPosition": 0.5, "title": null}, "y": {"field": "y", "type": "quantitative", "scale": {"domain": [-2.5, 0.114], "nice": false, "zero": false}}, "y2": {"field": "tip"}}},
{"data": {"name": "brk"}, "transform": [{"filter": "datum.p=='e'"}], "mark": {"type": "rule", "color": "#111", "strokeWidth": 1.6},
 "encoding": {"x": {"field": "g2", "type": "nominal", "sort": ["BM","PB"], "bandPosition": 0.5, "title": null}, "y": {"field": "y", "type": "quantitative", "scale": {"domain": [-2.5, 0.114], "nice": false, "zero": false}}, "y2": {"field": "tip"}}},
{"data": {"name": "brk"}, "transform": [{"filter": "datum.p=='e'"}], "mark": {"type": "rule", "color": "#111", "strokeWidth": 1.6},
 "encoding": {"x": {"field": "g1", "type": "nominal", "sort": ["BM","PB"], "bandPosition": 0.5, "title": null}, "x2": {"field": "g1", "bandPosition": 0.999}, "y": {"field": "y", "type": "quantitative", "scale": {"domain": [-2.5, 0.114], "nice": false, "zero": false}}}},
{"data": {"name": "brk"}, "transform": [{"filter": "datum.p=='e'"}], "mark": {"type": "rule", "color": "#111", "strokeWidth": 1.6},
 "encoding": {"x": {"field": "g2", "type": "nominal", "sort": ["BM","PB"], "bandPosition": 0.001, "title": null}, "x2": {"field": "g2", "bandPosition": 0.5}, "y": {"field": "y", "type": "quantitative", "scale": {"domain": [-2.5, 0.114], "nice": false, "zero": false}}}},
{"data": {"name": "brk"}, "transform": [{"filter": "datum.p=='e'"}], "mark": {"type": "text", "font": "Roboto", "fontSize": 22, "align": "center", "baseline": "middle"},
 "encoding": {"x": {"field": "g1", "type": "nominal", "sort": ["BM","PB"], "bandPosition": 1.1667, "title": null}, "y": {"field": "y", "type": "quantitative", "scale": {"domain": [-2.5, 0.114], "nice": false, "zero": false}}, "text": {"field": "label"}, "color": {"condition": {"test": "datum.pv < 0.05", "value": "#E8141B"}, "value": "#111"}}}
]
}
], "spacing": 43, "resolve": {"scale": {"x": "independent", "y": "independent", "xOffset": "independent"}}},
{
"width": 538, "height": 345,
"title": {"text": "h", "anchor": "start", "frame": "bounds", "orient": "top", "offset": -60, "baseline": "alphabetic", "dx": 2, "fontSize": 40, "fontWeight": "bold", "font": "Liberation Sans", "color": "#000"},
"encoding": {"x": {"field": "g", "type": "nominal", "sort": ["NPM1-mut","NPM1-wt"], "title": null, "scale": {"type": "band", "paddingInner": 0.25, "paddingOuter": 0.225}, "axis": {"labelFontStyle": "italic"}}},
"layer": [
{"data": {"name": "boxes"}, "transform": [{"filter": "datum.p=='h'"}], "mark": {"type": "rule", "color": "#555", "strokeWidth": 1.3},
 "encoding": {"y": {"field": "lo", "type": "quantitative", "scale": {"domain": [-2.477, -0.327], "nice": false, "zero": false},
   "axis": {"title": "NPM1.2", "values": [-2.25,-2,-1.75,-1.5,-1.25,-1,-0.75,-0.5], "labelExpr": "abs(datum.value*2-round(datum.value*2))<0.001 ? (datum.value<-0.001?'-':'')+format(abs(datum.value),'.1f') : ''", "tickOpacity": {"condition": {"test": "abs(datum.value*2-round(datum.value*2))>0.001", "value": 0}, "value": 1}, "gridColor": {"condition": {"test": "abs(datum.value*2-round(datum.value*2))>0.001", "value": "#F2F3F5"}, "value": "#E8EAEE"}}},
  "y2": {"field": "hi"}}},
{"data": {"name": "boxes"}, "transform": [{"filter": "datum.p=='h'"}], "mark": {"type": "rect", "fill": "#E8E9EB", "stroke": "#5F6266", "strokeWidth": 1.3},
 "encoding": {"x": {"field": "g", "type": "nominal", "sort": ["NPM1-mut","NPM1-wt"], "bandPosition": 0, "title": null}, "x2": {"field": "g", "bandPosition": 1},
  "y": {"field": "q1", "type": "quantitative", "scale": {"domain": [-2.477, -0.327], "nice": false, "zero": false}}, "y2": {"field": "q3"}}},
{"data": {"name": "boxes"}, "transform": [{"filter": "datum.p=='h'"}], "mark": {"type": "rule", "color": "#222", "strokeWidth": 2.2},
 "encoding": {"x": {"field": "g", "type": "nominal", "sort": ["NPM1-mut","NPM1-wt"], "bandPosition": 0, "title": null}, "x2": {"field": "g", "bandPosition": 1},
  "y": {"field": "med", "type": "quantitative", "scale": {"domain": [-2.477, -0.327], "nice": false, "zero": false}}}},
{"data": {"name": "dots"}, "transform": [{"filter": "datum.p=='h'"}, {"window": [{"op": "row_number", "as": "rk"}, {"op": "count", "as": "n"}], "groupby": ["g", "v"], "frame": [null, null]}, {"calculate": "datum.rk - (datum.n + 1) / 2", "as": "off"}],
 "mark": {"type": "point", "filled": true, "size": 92, "stroke": "#3A3A3A", "strokeWidth": 0.8, "opacity": 1},
 "encoding": {"xOffset": {"field": "off", "type": "quantitative", "scale": {"domain": [-10, 10], "range": [-5.3, 188.7]}},
  "y": {"field": "v", "type": "quantitative", "scale": {"domain": [-2.477, -0.327], "nice": false, "zero": false}},
  "color": {"field": "g", "type": "nominal", "scale": {"domain": ["HV","AML","ALL","BM","PB","NPM1-mut","NPM1-wt"], "range": ["#E66A5C","#0EA43F","#1C8DCB","#E66A5C","#13AFB6","#E66A5C","#13AFB6"]}, "legend": null}}},
{"data": {"name": "brk"}, "transform": [{"filter": "datum.p=='h'"}], "mark": {"type": "rule", "color": "#111", "strokeWidth": 1.6},
 "encoding": {"x": {"field": "g1", "type": "nominal", "sort": ["NPM1-mut","NPM1-wt"], "bandPosition": 0.5, "title": null}, "y": {"field": "y", "type": "quantitative", "scale": {"domain": [-2.477, -0.327], "nice": false, "zero": false}}, "y2": {"field": "tip"}}},
{"data": {"name": "brk"}, "transform": [{"filter": "datum.p=='h'"}], "mark": {"type": "rule", "color": "#111", "strokeWidth": 1.6},
 "encoding": {"x": {"field": "g2", "type": "nominal", "sort": ["NPM1-mut","NPM1-wt"], "bandPosition": 0.5, "title": null}, "y": {"field": "y", "type": "quantitative", "scale": {"domain": [-2.477, -0.327], "nice": false, "zero": false}}, "y2": {"field": "tip"}}},
{"data": {"name": "brk"}, "transform": [{"filter": "datum.p=='h'"}], "mark": {"type": "rule", "color": "#111", "strokeWidth": 1.6},
 "encoding": {"x": {"field": "g1", "type": "nominal", "sort": ["NPM1-mut","NPM1-wt"], "bandPosition": 0.5, "title": null}, "x2": {"field": "g1", "bandPosition": 0.872}, "y": {"field": "y", "type": "quantitative", "scale": {"domain": [-2.477, -0.327], "nice": false, "zero": false}}}},
{"data": {"name": "brk"}, "transform": [{"filter": "datum.p=='h'"}], "mark": {"type": "rule", "color": "#111", "strokeWidth": 1.6},
 "encoding": {"x": {"field": "g2", "type": "nominal", "sort": ["NPM1-mut","NPM1-wt"], "bandPosition": 0.128, "title": null}, "x2": {"field": "g2", "bandPosition": 0.5}, "y": {"field": "y", "type": "quantitative", "scale": {"domain": [-2.477, -0.327], "nice": false, "zero": false}}}},
{"data": {"name": "brk"}, "transform": [{"filter": "datum.p=='h'"}], "mark": {"type": "text", "font": "Roboto", "fontSize": 22, "align": "center", "baseline": "middle"},
 "encoding": {"x": {"field": "g1", "type": "nominal", "sort": ["NPM1-mut","NPM1-wt"], "bandPosition": 1.1667, "title": null}, "y": {"field": "y", "type": "quantitative", "scale": {"domain": [-2.477, -0.327], "nice": false, "zero": false}}, "text": {"field": "label"}, "color": {"condition": {"test": "datum.pv < 0.05", "value": "#E8141B"}, "value": "#111"}}}
]
}
], "spacing": 40, "resolve": {"scale": {"x": "independent", "y": "independent", "xOffset": "independent"}}}
], "spacing": 62, "resolve": {"scale": {"x": "independent", "y": "independent", "xOffset": "independent"}}},
{"hconcat": [
{"hconcat": [
{
"width": 543, "height": 360,
"title": {"text": "c", "anchor": "start", "frame": "bounds", "orient": "top", "offset": -64, "baseline": "alphabetic", "dx": 8, "fontSize": 40, "fontWeight": "bold", "font": "Liberation Sans", "color": "#000"},
"encoding": {"x": {"field": "g", "type": "nominal", "sort": ["HV","AML","ALL"], "title": null, "scale": {"type": "band", "paddingInner": 0.25, "paddingOuter": 0.225}}},
"layer": [
{"data": {"name": "boxes"}, "transform": [{"filter": "datum.p=='c'"}], "mark": {"type": "rule", "color": "#555", "strokeWidth": 1.3},
 "encoding": {"y": {"field": "lo", "type": "quantitative", "scale": {"domain": [-1.427, 0.564], "nice": false, "zero": false},
   "axis": {"title": "NPM1.3", "values": [-1.25,-1,-0.75,-0.5,-0.25,0,0.25,0.5], "labelExpr": "abs(datum.value*2-round(datum.value*2))<0.001 ? (datum.value<-0.001?'-':'')+format(abs(datum.value),'.1f') : ''", "tickOpacity": {"condition": {"test": "abs(datum.value*2-round(datum.value*2))>0.001", "value": 0}, "value": 1}, "gridColor": {"condition": {"test": "abs(datum.value*2-round(datum.value*2))>0.001", "value": "#F2F3F5"}, "value": "#E8EAEE"}}},
  "y2": {"field": "hi"}}},
{"data": {"name": "boxes"}, "transform": [{"filter": "datum.p=='c'"}], "mark": {"type": "rect", "fill": "#FFFFFF", "stroke": "#66696D", "strokeWidth": 1.3},
 "encoding": {"x": {"field": "g", "type": "nominal", "sort": ["HV","AML","ALL"], "bandPosition": 0, "title": null}, "x2": {"field": "g", "bandPosition": 1},
  "y": {"field": "q1", "type": "quantitative", "scale": {"domain": [-1.427, 0.564], "nice": false, "zero": false}}, "y2": {"field": "q3"}}},
{"data": {"name": "boxes"}, "transform": [{"filter": "datum.p=='c'"}], "mark": {"type": "rule", "color": "#222", "strokeWidth": 2.2},
 "encoding": {"x": {"field": "g", "type": "nominal", "sort": ["HV","AML","ALL"], "bandPosition": 0, "title": null}, "x2": {"field": "g", "bandPosition": 1},
  "y": {"field": "med", "type": "quantitative", "scale": {"domain": [-1.427, 0.564], "nice": false, "zero": false}}}},
{"data": {"name": "dots"}, "transform": [{"filter": "datum.p=='c'"}, {"window": [{"op": "row_number", "as": "rk"}, {"op": "count", "as": "n"}], "groupby": ["g", "v"], "frame": [null, null]}, {"calculate": "datum.rk - (datum.n + 1) / 2", "as": "off"}],
 "mark": {"type": "point", "filled": true, "size": 118, "stroke": "#3A3A3A", "strokeWidth": 0.8, "opacity": 1},
 "encoding": {"xOffset": {"field": "off", "type": "quantitative", "scale": {"domain": [-10, 10], "range": [-48.4, 175.6]}},
  "y": {"field": "v", "type": "quantitative", "scale": {"domain": [-1.427, 0.564], "nice": false, "zero": false}},
  "color": {"field": "g", "type": "nominal", "scale": {"domain": ["HV","AML","ALL","BM","PB","NPM1-mut","NPM1-wt"], "range": ["#E66A5C","#0EA43F","#1C8DCB","#E66A5C","#13AFB6","#E66A5C","#13AFB6"]}, "legend": null}}}
]
},
{
"width": 544, "height": 360,
"title": {"text": "f", "anchor": "start", "frame": "bounds", "orient": "top", "offset": -62, "baseline": "alphabetic", "dx": 5, "fontSize": 40, "fontWeight": "bold", "font": "Liberation Sans", "color": "#000"},
"encoding": {"x": {"field": "g", "type": "nominal", "sort": ["BM","PB"], "title": null, "scale": {"type": "band", "paddingInner": 0.25, "paddingOuter": 0.225}}},
"layer": [
{"data": {"name": "boxes"}, "transform": [{"filter": "datum.p=='f'"}], "mark": {"type": "rule", "color": "#555", "strokeWidth": 1.3},
 "encoding": {"y": {"field": "lo", "type": "quantitative", "scale": {"domain": [-1.34, 0.848], "nice": false, "zero": false},
   "axis": {"title": "NPM1.3", "values": [-1.25,-1,-0.75,-0.5,-0.25,0,0.25,0.5,0.75], "labelExpr": "abs(datum.value*2-round(datum.value*2))<0.001 ? (datum.value<-0.001?'-':'')+format(abs(datum.value),'.1f') : ''", "tickOpacity": {"condition": {"test": "abs(datum.value*2-round(datum.value*2))>0.001", "value": 0}, "value": 1}, "gridColor": {"condition": {"test": "abs(datum.value*2-round(datum.value*2))>0.001", "value": "#F2F3F5"}, "value": "#E8EAEE"}}},
  "y2": {"field": "hi"}}},
{"data": {"name": "boxes"}, "transform": [{"filter": "datum.p=='f'"}], "mark": {"type": "rect", "fill": "#E8E9EB", "stroke": "#5F6266", "strokeWidth": 1.3},
 "encoding": {"x": {"field": "g", "type": "nominal", "sort": ["BM","PB"], "bandPosition": 0, "title": null}, "x2": {"field": "g", "bandPosition": 1},
  "y": {"field": "q1", "type": "quantitative", "scale": {"domain": [-1.34, 0.848], "nice": false, "zero": false}}, "y2": {"field": "q3"}}},
{"data": {"name": "boxes"}, "transform": [{"filter": "datum.p=='f'"}], "mark": {"type": "rule", "color": "#222", "strokeWidth": 2.2},
 "encoding": {"x": {"field": "g", "type": "nominal", "sort": ["BM","PB"], "bandPosition": 0, "title": null}, "x2": {"field": "g", "bandPosition": 1},
  "y": {"field": "med", "type": "quantitative", "scale": {"domain": [-1.34, 0.848], "nice": false, "zero": false}}}},
{"data": {"name": "dots"}, "transform": [{"filter": "datum.p=='f'"}, {"window": [{"op": "row_number", "as": "rk"}, {"op": "count", "as": "n"}], "groupby": ["g", "v"], "frame": [null, null]}, {"calculate": "datum.rk - (datum.n + 1) / 2", "as": "off"}],
 "mark": {"type": "point", "filled": true, "size": 88, "stroke": "#3A3A3A", "strokeWidth": 0.8, "opacity": 1},
 "encoding": {"xOffset": {"field": "off", "type": "quantitative", "scale": {"domain": [-10, 10], "range": [-3.3, 188.7]}},
  "y": {"field": "v", "type": "quantitative", "scale": {"domain": [-1.34, 0.848], "nice": false, "zero": false}},
  "color": {"field": "g", "type": "nominal", "scale": {"domain": ["HV","AML","ALL","BM","PB","NPM1-mut","NPM1-wt"], "range": ["#E66A5C","#0EA43F","#1C8DCB","#E66A5C","#13AFB6","#E66A5C","#13AFB6"]}, "legend": null}}},
{"data": {"name": "brk"}, "transform": [{"filter": "datum.p=='f'"}], "mark": {"type": "rule", "color": "#111", "strokeWidth": 1.6},
 "encoding": {"x": {"field": "g1", "type": "nominal", "sort": ["BM","PB"], "bandPosition": 0.5, "title": null}, "y": {"field": "y", "type": "quantitative", "scale": {"domain": [-1.34, 0.848], "nice": false, "zero": false}}, "y2": {"field": "tip"}}},
{"data": {"name": "brk"}, "transform": [{"filter": "datum.p=='f'"}], "mark": {"type": "rule", "color": "#111", "strokeWidth": 1.6},
 "encoding": {"x": {"field": "g2", "type": "nominal", "sort": ["BM","PB"], "bandPosition": 0.5, "title": null}, "y": {"field": "y", "type": "quantitative", "scale": {"domain": [-1.34, 0.848], "nice": false, "zero": false}}, "y2": {"field": "tip"}}},
{"data": {"name": "brk"}, "transform": [{"filter": "datum.p=='f'"}], "mark": {"type": "rule", "color": "#111", "strokeWidth": 1.6},
 "encoding": {"x": {"field": "g1", "type": "nominal", "sort": ["BM","PB"], "bandPosition": 0.5, "title": null}, "x2": {"field": "g1", "bandPosition": 0.929}, "y": {"field": "y", "type": "quantitative", "scale": {"domain": [-1.34, 0.848], "nice": false, "zero": false}}}},
{"data": {"name": "brk"}, "transform": [{"filter": "datum.p=='f'"}], "mark": {"type": "rule", "color": "#111", "strokeWidth": 1.6},
 "encoding": {"x": {"field": "g2", "type": "nominal", "sort": ["BM","PB"], "bandPosition": 0.07, "title": null}, "x2": {"field": "g2", "bandPosition": 0.5}, "y": {"field": "y", "type": "quantitative", "scale": {"domain": [-1.34, 0.848], "nice": false, "zero": false}}}},
{"data": {"name": "brk"}, "transform": [{"filter": "datum.p=='f'"}], "mark": {"type": "text", "font": "Roboto", "fontSize": 22, "align": "center", "baseline": "middle"},
 "encoding": {"x": {"field": "g1", "type": "nominal", "sort": ["BM","PB"], "bandPosition": 1.1667, "title": null}, "y": {"field": "y", "type": "quantitative", "scale": {"domain": [-1.34, 0.848], "nice": false, "zero": false}}, "text": {"field": "label"}, "color": {"condition": {"test": "datum.pv < 0.05", "value": "#E8141B"}, "value": "#111"}}}
]
}
], "spacing": 43, "resolve": {"scale": {"x": "independent", "y": "independent", "xOffset": "independent"}}},
{
"width": 538, "height": 360,
"title": {"text": "i", "anchor": "start", "frame": "bounds", "orient": "top", "offset": -68, "baseline": "alphabetic", "dx": 4, "fontSize": 40, "fontWeight": "bold", "font": "Liberation Sans", "color": "#000"},
"encoding": {"x": {"field": "g", "type": "nominal", "sort": ["NPM1-mut","NPM1-wt"], "title": null, "scale": {"type": "band", "paddingInner": 0.25, "paddingOuter": 0.225}, "axis": {"labelFontStyle": "italic"}}},
"layer": [
{"data": {"name": "boxes"}, "transform": [{"filter": "datum.p=='i'"}], "mark": {"type": "rule", "color": "#555", "strokeWidth": 1.3},
 "encoding": {"y": {"field": "lo", "type": "quantitative", "scale": {"domain": [-1.324, 0.617], "nice": false, "zero": false},
   "axis": {"title": "NPM1.3", "values": [-1.25,-1,-0.75,-0.5,-0.25,0,0.25,0.5], "labelExpr": "abs(datum.value*2-round(datum.value*2))<0.001 ? (datum.value<-0.001?'-':'')+format(abs(datum.value),'.1f') : ''", "tickOpacity": {"condition": {"test": "abs(datum.value*2-round(datum.value*2))>0.001", "value": 0}, "value": 1}, "gridColor": {"condition": {"test": "abs(datum.value*2-round(datum.value*2))>0.001", "value": "#F2F3F5"}, "value": "#E8EAEE"}}},
  "y2": {"field": "hi"}}},
{"data": {"name": "boxes"}, "transform": [{"filter": "datum.p=='i'"}], "mark": {"type": "rect", "fill": "#E8E9EB", "stroke": "#5F6266", "strokeWidth": 1.3},
 "encoding": {"x": {"field": "g", "type": "nominal", "sort": ["NPM1-mut","NPM1-wt"], "bandPosition": 0, "title": null}, "x2": {"field": "g", "bandPosition": 1},
  "y": {"field": "q1", "type": "quantitative", "scale": {"domain": [-1.324, 0.617], "nice": false, "zero": false}}, "y2": {"field": "q3"}}},
{"data": {"name": "boxes"}, "transform": [{"filter": "datum.p=='i'"}], "mark": {"type": "rule", "color": "#222", "strokeWidth": 2.2},
 "encoding": {"x": {"field": "g", "type": "nominal", "sort": ["NPM1-mut","NPM1-wt"], "bandPosition": 0, "title": null}, "x2": {"field": "g", "bandPosition": 1},
  "y": {"field": "med", "type": "quantitative", "scale": {"domain": [-1.324, 0.617], "nice": false, "zero": false}}}},
{"data": {"name": "dots"}, "transform": [{"filter": "datum.p=='i'"}, {"window": [{"op": "row_number", "as": "rk"}, {"op": "count", "as": "n"}], "groupby": ["g", "v"], "frame": [null, null]}, {"calculate": "datum.rk - (datum.n + 1) / 2", "as": "off"}],
 "mark": {"type": "point", "filled": true, "size": 92, "stroke": "#3A3A3A", "strokeWidth": 0.8, "opacity": 1},
 "encoding": {"xOffset": {"field": "off", "type": "quantitative", "scale": {"domain": [-10, 10], "range": [-5.3, 188.7]}},
  "y": {"field": "v", "type": "quantitative", "scale": {"domain": [-1.324, 0.617], "nice": false, "zero": false}},
  "color": {"field": "g", "type": "nominal", "scale": {"domain": ["HV","AML","ALL","BM","PB","NPM1-mut","NPM1-wt"], "range": ["#E66A5C","#0EA43F","#1C8DCB","#E66A5C","#13AFB6","#E66A5C","#13AFB6"]}, "legend": null}}},
{"data": {"name": "brk"}, "transform": [{"filter": "datum.p=='i'"}], "mark": {"type": "rule", "color": "#111", "strokeWidth": 1.6},
 "encoding": {"x": {"field": "g1", "type": "nominal", "sort": ["NPM1-mut","NPM1-wt"], "bandPosition": 0.5, "title": null}, "y": {"field": "y", "type": "quantitative", "scale": {"domain": [-1.324, 0.617], "nice": false, "zero": false}}, "y2": {"field": "tip"}}},
{"data": {"name": "brk"}, "transform": [{"filter": "datum.p=='i'"}], "mark": {"type": "rule", "color": "#111", "strokeWidth": 1.6},
 "encoding": {"x": {"field": "g2", "type": "nominal", "sort": ["NPM1-mut","NPM1-wt"], "bandPosition": 0.5, "title": null}, "y": {"field": "y", "type": "quantitative", "scale": {"domain": [-1.324, 0.617], "nice": false, "zero": false}}, "y2": {"field": "tip"}}},
{"data": {"name": "brk"}, "transform": [{"filter": "datum.p=='i'"}], "mark": {"type": "rule", "color": "#111", "strokeWidth": 1.6},
 "encoding": {"x": {"field": "g1", "type": "nominal", "sort": ["NPM1-mut","NPM1-wt"], "bandPosition": 0.5, "title": null}, "x2": {"field": "g1", "bandPosition": 0.965}, "y": {"field": "y", "type": "quantitative", "scale": {"domain": [-1.324, 0.617], "nice": false, "zero": false}}}},
{"data": {"name": "brk"}, "transform": [{"filter": "datum.p=='i'"}], "mark": {"type": "rule", "color": "#111", "strokeWidth": 1.6},
 "encoding": {"x": {"field": "g2", "type": "nominal", "sort": ["NPM1-mut","NPM1-wt"], "bandPosition": 0.035, "title": null}, "x2": {"field": "g2", "bandPosition": 0.5}, "y": {"field": "y", "type": "quantitative", "scale": {"domain": [-1.324, 0.617], "nice": false, "zero": false}}}},
{"data": {"name": "brk"}, "transform": [{"filter": "datum.p=='i'"}], "mark": {"type": "text", "font": "Roboto", "fontSize": 22, "align": "center", "baseline": "middle"},
 "encoding": {"x": {"field": "g1", "type": "nominal", "sort": ["NPM1-mut","NPM1-wt"], "bandPosition": 1.1667, "title": null}, "y": {"field": "y", "type": "quantitative", "scale": {"domain": [-1.324, 0.617], "nice": false, "zero": false}}, "text": {"field": "label"}, "color": {"condition": {"test": "datum.pv < 0.05", "value": "#E8141B"}, "value": "#111"}}}
]
}
], "spacing": 40, "resolve": {"scale": {"x": "independent", "y": "independent", "xOffset": "independent"}}}
],
"spacing": 84,
"resolve": {"scale": {"x": "independent", "y": "independent", "xOffset": "independent"}},
"config": {
 "background": "#FFFFFF",
 "view": {"stroke": "#70757B", "strokeWidth": 1.3},
 "axisX": {"labelAngle": 0, "labelFont": "Liberation Sans", "labelFontSize": 32, "labelFontWeight": "bold", "labelColor": "#000", "labelPadding": 6, "tickSize": 5, "tickColor": "#666", "grid": true, "gridColor": "#EEF0F3", "domain": false},
 "axisY": {"labelFont": "Roboto", "labelFontSize": 19, "labelColor": "#333", "labelPadding": 4, "labelOverlap": false, "tickCount": 30, "tickSize": 5, "tickColor": "#666", "titleFont": "Liberation Sans", "titleFontSize": 32, "titleFontWeight": "bold", "titleFontStyle": "italic", "titleColor": "#000", "titlePadding": 7, "grid": true, "domain": false}
}
}
